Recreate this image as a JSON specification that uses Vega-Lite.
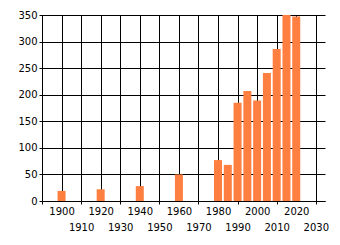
{
  "$schema": "https://vega.github.io/schema/vega-lite/v6.json",
  "autosize": "none",
  "width": 283,
  "height": 186,
  "padding": {"left": 42, "top": 15, "right": 15, "bottom": 44},
  "background": "white",
  "config": {
    "view": {"stroke": null},
    "axis": {
      "labelFont": "DejaVu Sans",
      "labelFontSize": 10,
      "labelColor": "black",
      "domainColor": "black",
      "tickColor": "black",
      "gridColor": "black",
      "gridOpacity": 1,
      "gridWidth": 1,
      "domainWidth": 1,
      "tickWidth": 1,
      "title": null
    }
  },
  "data": {
    "values": [
      {"year": 1900, "value": 19},
      {"year": 1920, "value": 22},
      {"year": 1940, "value": 28},
      {"year": 1960, "value": 50},
      {"year": 1980, "value": 77},
      {"year": 1985, "value": 68},
      {"year": 1990, "value": 185},
      {"year": 1995, "value": 207},
      {"year": 2000, "value": 189},
      {"year": 2005, "value": 241},
      {"year": 2010, "value": 286},
      {"year": 2015, "value": 350},
      {"year": 2020, "value": 347}
    ]
  },
  "layer": [
    {
      "mark": {"type": "bar", "size": 8, "color": "#FF7F40"},
      "encoding": {
        "x": {
          "field": "year",
          "type": "quantitative",
          "scale": {"domain": [1890, 2034.7], "nice": false, "zero": false, "padding": 0},
          "axis": {
            "orient": "bottom",
            "values": [1890, 1900, 1910, 1920, 1930, 1940, 1950, 1960, 1970, 1980, 1990, 2000, 2010, 2020, 2030],
            "labelExpr": "datum.value % 20 == 0 ? datum.value : ''",
            "ticks": false,
            "tickSize": 0,
            "labelPadding": 5,
            "labelBaseline": "top",
            "format": "d",
            "grid": true,
            "labelFlush": false,
            "labelOverlap": false
          }
        },
        "y": {
          "field": "value",
          "type": "quantitative",
          "scale": {"domain": [0, 350], "nice": false, "zero": true},
          "axis": {
            "values": [0, 50, 100, 150, 200, 250, 300, 350],
            "tickSize": 3,
            "labelPadding": 2,
            "grid": true,
            "labelFlush": false,
            "labelOverlap": false
          }
        }
      }
    },
    {
      "mark": {"type": "point", "opacity": 0},
      "encoding": {
        "x": {
          "field": "year",
          "type": "quantitative",
          "scale": {"domain": [1890, 2034.7], "nice": false, "zero": false, "padding": 0},
          "axis": {
            "orient": "bottom",
            "values": [1890, 1910, 1930, 1950, 1970, 1990, 2010, 2030],
            "labelExpr": "datum.value == 1890 ? '' : datum.value",
            "tickSize": 3,
            "labelPadding": 18,
            "labelBaseline": "top",
            "format": "d",
            "grid": false,
            "domain": false,
            "labelFlush": false,
            "labelOverlap": false
          }
        }
      }
    }
  ],
  "resolve": {"axis": {"x": "independent"}}
}
